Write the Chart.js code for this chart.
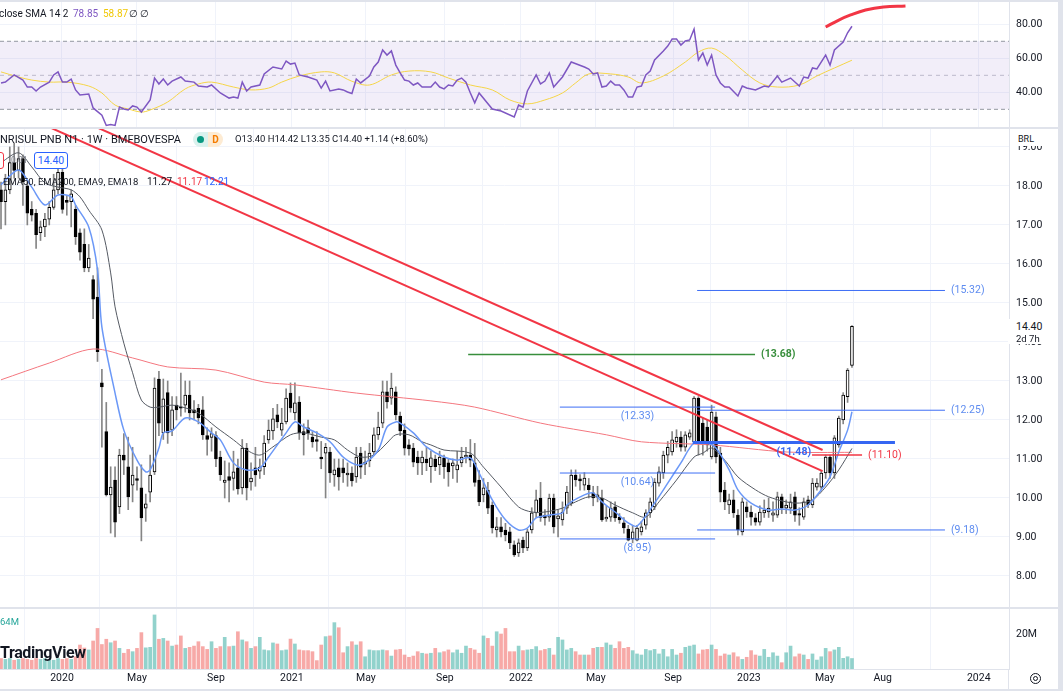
<!DOCTYPE html>
<html lang="pt-BR">
<head>
<meta charset="UTF-8">
<meta name="viewport" content="width=device-width, initial-scale=1.0">
<title>BANRISUL PNB N1 · 1W · BMFBOVESPA</title>
<script src="https://cdn.jsdelivr.net/npm/chart.js"></script>
<style>
  body { margin: 0; background: #fff; font-family: Roboto, "Open Sans", sans-serif; }
  #wrap { position: relative; width: 1063px; height: 691px; overflow: hidden; background: #fff; }
  .pane { position: absolute; left: 0; width: 1058px; }
  .pane canvas { position: absolute; left: 0; top: 0; }
  .sep { position: absolute; background: #e0e3eb; }
  .t { position: absolute; white-space: nowrap; line-height: 1; color: #131722; font-size: 10px; transform: translateY(-50%); }
  .lvl { position: absolute; white-space: nowrap; line-height: 1; font-size: 10.5px; }
</style>
</head>
<body>
<div id="wrap">
  <div class="pane" id="rsiPane" style="top:2px;height:125px"><canvas id="rsiChart" width="1058" height="125"></canvas></div>
  <div class="pane" id="pricePane" style="top:129px;height:478px"><canvas id="priceChart" width="1058" height="478"></canvas></div>
  <div class="pane" id="volPane" style="top:609px;height:80px"><canvas id="volChart" width="1058" height="80"></canvas></div>

  <div class="sep" style="left:0;top:0;width:1063px;height:2px"></div>
  <div class="sep" style="left:0;top:127px;width:1058px;height:2px"></div>
  <div class="sep" style="left:0;top:607px;width:1058px;height:2px"></div>
  <div class="sep" style="left:0;top:689px;width:1063px;height:2px"></div>
  <div class="sep" style="left:1058px;top:0;width:5px;height:691px"></div>
  <div class="sep" style="left:1008px;top:669px;width:1px;height:20px"></div>

  <!-- legenda do RSI -->
  <div class="t" style="left:-1px;top:14px">close SMA 14 2</div>
  <div class="t" style="left:73px;top:14px;color:#7e57c2">78.85</div>
  <div class="t" style="left:103px;top:14px;color:#f0c808">58.87</div>
  <div class="t" style="left:129px;top:14px">∅</div>
  <div class="t" style="left:140px;top:14px">∅</div>

  <!-- cabeçalho do gráfico de preço -->
  <div class="t" style="left:0;top:139px;font-size:11px">NRISUL PNB N1 · 1W · BMFBOVESPA</div>
  <div style="position:absolute;left:193px;top:132px;width:15px;height:15px;background:#daf2ee;border-radius:8px 0 0 8px"></div>
  <div style="position:absolute;left:197px;top:136px;width:7px;height:7px;background:#089981;border-radius:50%"></div>
  <div style="position:absolute;left:208px;top:132px;width:15px;height:15px;background:#fdebd3;border-radius:0 8px 8px 0;color:#f57c00;font-size:10px;font-weight:700;display:flex;align-items:center;justify-content:center">D</div>
  <div class="t" style="left:235px;top:139px;font-size:9.5px">O13.40 H14.42 L13.35 C14.40 +1.14 (+8.60%)</div>

  <div style="position:absolute;left:-20px;top:152px;width:24px;height:17px;border:1px solid #f23645;border-radius:3px;box-sizing:border-box;background:#fff"></div>
  <div class="t" style="left:11px;top:160px;font-size:8.5px;color:#787b86">0.01</div>
  <div style="position:absolute;left:34px;top:152px;width:34px;height:17px;border:1px solid #2962ff;border-radius:3px;box-sizing:border-box;background:#fff;color:#2962ff;font-size:10.5px;display:flex;align-items:center;justify-content:center">14.40</div>

  <div class="t" style="left:3px;top:182px;font-size:9.5px">EMA50, EMA200, EMA9, EMA18</div>
  <div class="t" style="left:147px;top:182px">11.27</div>
  <div class="t" style="left:177px;top:182px;color:#f23645">11.17</div>
  <div class="t" style="left:204px;top:182px;color:#2962ff">12.21</div>

  <div style="position:absolute;left:1010px;top:130px;width:48px;height:16px;background:#fff"></div>
  <div class="t" style="left:1018px;top:139px;font-size:9px">BRL</div>
  <div style="position:absolute;left:1008px;top:319px;width:50px;height:25px;background:#fff"></div>
  <div class="t" style="left:1016px;top:327px;font-size:10.5px">14.40</div>
  <div class="t" style="left:1016px;top:339px;font-size:9.5px">2d 7h</div>

  <div class="t" style="left:0;top:622px;font-size:9.5px;color:#26a69a">64M</div>
  <div class="t" style="left:0;top:653px;font-size:16px;font-weight:700;letter-spacing:-0.4px">TradingView</div>

  <svg style="position:absolute;left:1029px;top:672px" width="13" height="13" viewBox="0 0 13 13">
    <circle cx="6.5" cy="6.5" r="5" fill="none" stroke="#131722" stroke-width="1"/>
    <circle cx="6.5" cy="6.5" r="2" fill="none" stroke="#131722" stroke-width="1"/>
  </svg>
</div>

<script>
// velas semanais (índice 0 = primeira vela visível, fim de 2019)
const candleO = [17.9,17.6,17.9,18.6,18.4,18.7,18.0,17.4,17.3,16.8,16.95,17.15,17.45,17.9,18.35,17.63,17.6,17.4,16.8,16.5,
  15.9,15.6,15.15,12.95,11.7,10.08,10.46,9.77,11.1,10.8,10.33,10.5,10.26,9.74,10.15,10.67,13.05,11.67,12.7,11.74,
  12.38,12.33,12.38,12.64,12.26,12.3,12.26,11.6,11.55,11.6,11.05,10.4,10.55,10.5,10.77,10.26,11.28,10.41,10.77,10.69,
  10.8,11.49,11.72,12.13,11.74,11.95,12.69,12.18,12.46,11.7,11.8,11.56,11.5,11.05,11.15,11.18,10.59,10.77,10.77,10.59,
  10.64,10.54,11.15,10.87,10.95,11.18,11.62,11.92,12.72,12.56,12.72,12.1,11.74,11.36,11.28,11.05,10.9,11.0,10.8,11.0,
  10.85,11.03,10.9,10.82,10.72,10.9,11.05,11.1,10.9,10.46,10.08,10.2,9.82,9.18,9.26,9.18,9.13,8.8,8.59,8.92,
  8.72,9.18,9.62,10.0,9.56,9.51,10.0,9.46,9.44,9.74,9.87,10.59,10.49,10.33,10.33,10.13,10.03,10.0,9.46,9.51,
  9.77,9.51,9.36,9.2,8.95,8.92,9.13,9.3,9.62,9.77,10.38,10.64,11.1,11.18,11.44,11.56,11.3,11.56,11.44,12.56,
  11.92,11.82,11.05,12.08,11.15,10.2,9.82,9.95,9.56,9.13,9.77,9.64,9.49,9.38,9.62,9.64,9.56,9.56,10.03,9.74,
  9.74,10.03,9.6,9.51,9.95,9.82,10.28,10.28,10.64,11.05,10.64,11.36,12.0,12.6,13.4];
const candleH = [18.1,18.3,19.0,19.1,19.0,18.8,18.1,17.6,17.4,17.1,17.3,17.6,18.3,18.55,18.6,17.75,17.9,17.5,16.9,16.9,
  16.5,15.7,15.9,13.3,12.45,10.8,10.8,11.25,11.65,11.56,11.3,10.8,10.85,10.1,11.1,13.08,13.25,13.05,13.0,12.6,
  12.6,13.2,13.0,13.0,12.5,12.4,12.6,11.8,11.8,11.7,11.2,10.95,10.9,11.2,11.0,11.5,11.4,10.9,11.3,11.0,
  11.6,12.0,12.3,12.4,12.3,12.8,12.95,12.95,12.6,11.9,12.0,11.7,11.7,11.45,11.4,11.3,11.0,11.0,11.0,10.9,
  10.8,11.3,11.3,11.2,11.4,11.8,12.2,13.0,13.0,13.2,12.85,12.2,11.9,11.5,11.4,11.2,11.2,11.3,11.2,11.1,
  11.2,11.1,11.0,11.0,11.2,11.3,11.3,11.5,11.4,10.7,10.5,10.4,9.9,9.5,9.5,9.35,9.25,8.9,8.95,9.0,
  9.2,9.75,10.2,10.4,9.7,10.1,10.1,9.7,9.9,10.3,10.72,10.72,10.6,10.65,10.5,10.3,10.3,10.2,9.8,9.9,
  9.9,9.6,9.5,9.3,9.3,9.3,9.4,9.7,10.0,10.5,10.8,11.2,11.45,11.7,11.75,11.7,11.7,11.75,12.6,12.6,
  12.05,12.0,12.38,12.2,11.3,10.4,10.1,10.2,9.7,10.0,9.9,9.8,9.6,9.8,9.95,10.0,9.9,10.15,10.1,9.95,
  10.1,10.15,9.75,10.0,10.05,10.5,10.5,10.7,11.1,11.1,11.6,12.1,12.7,13.32,14.42];
const candleL = [16.9,17.0,17.8,18.2,18.2,17.5,17.0,17.1,16.4,16.6,16.7,17.0,17.4,17.8,17.3,17.25,16.95,16.5,16.1,15.8,
  15.8,14.6,13.5,11.3,10.05,9.1,9.0,9.6,10.6,9.7,9.9,10.2,8.9,9.4,9.9,10.6,11.6,11.5,11.4,11.6,
  12.0,12.1,12.2,12.0,12.0,11.9,11.5,11.1,11.2,10.8,10.45,10.0,9.9,10.2,10.1,10.1,9.95,10.2,10.3,10.5,
  10.6,11.4,11.5,11.8,11.6,11.9,12.2,12.0,11.5,11.1,11.5,11.3,11.2,10.75,10.0,10.4,10.3,10.2,10.4,10.3,
  10.3,10.4,10.5,10.6,10.8,11.1,11.5,11.8,12.3,12.4,12.0,11.6,11.1,11.1,10.8,10.6,10.6,10.7,10.4,10.7,
  10.6,10.5,10.3,10.5,10.4,10.8,10.9,10.8,10.3,9.8,9.9,9.6,9.1,9.0,9.0,8.9,8.7,8.5,8.5,8.6,
  8.65,9.1,9.5,9.4,9.3,9.4,9.1,9.0,9.3,9.6,9.8,10.3,10.2,10.2,10.0,9.8,9.9,9.4,9.4,9.4,
  9.4,9.35,9.1,8.9,8.85,8.9,9.05,9.2,9.5,9.7,10.3,10.5,10.9,11.1,11.3,11.2,11.2,11.5,11.4,11.1,
  11.1,11.2,11.0,10.9,9.9,9.7,9.6,9.5,9.05,9.05,9.5,9.3,9.3,9.3,9.5,9.5,9.4,9.5,9.6,9.6,
  9.6,9.4,9.3,9.45,9.75,9.75,10.2,10.2,10.5,10.5,10.5,11.3,11.9,12.45,13.35];
const candleC = [17.6,17.9,18.6,18.4,18.7,18.1,17.3,17.25,16.75,16.95,17.15,17.45,17.9,18.35,17.4,17.58,17.8,16.7,16.3,15.9,
  16.15,15.1,13.75,12.85,10.08,10.28,9.38,11.1,10.97,10.03,10.59,10.45,9.49,9.85,10.59,12.82,11.92,12.54,11.67,12.26,
  12.26,12.3,12.64,12.18,12.18,12.05,11.62,11.5,11.65,11.0,10.6,10.46,10.45,10.67,10.23,11.28,10.26,10.51,10.59,10.79,
  11.41,11.74,12.03,11.95,11.92,12.56,12.31,12.44,11.67,11.62,11.67,11.44,11.45,11.0,11.3,10.64,10.72,10.54,10.64,10.64,
  10.44,11.05,10.79,10.92,11.15,11.62,11.82,12.72,12.46,12.82,12.13,11.72,11.28,11.26,10.92,10.9,11.05,10.9,11.03,10.8,
  11.05,10.8,10.67,10.9,10.85,11.05,11.1,10.97,10.4,9.9,10.26,9.74,9.23,9.26,9.13,9.05,8.85,8.54,8.85,8.72,
  9.13,9.62,9.95,9.5,9.49,10.0,9.26,9.54,9.64,10.15,10.59,10.46,10.44,10.51,10.21,10.0,10.08,9.44,9.51,9.74,
  9.49,9.44,9.23,8.92,9.13,9.23,9.26,9.62,9.9,10.41,10.67,11.1,11.3,11.49,11.56,11.3,11.62,11.67,12.56,11.41,
  11.41,11.36,12.2,11.05,10.15,9.9,9.95,9.62,9.18,9.9,9.64,9.51,9.38,9.64,9.69,9.74,9.62,10.03,9.74,9.82,
  9.9,9.56,9.56,9.9,9.82,10.38,10.38,10.64,11.05,10.64,11.54,12.05,12.64,13.28,14.4];

// volume semanal em milhões
const volume = [6,5.5,6,5,5.5,6,5.5,5,6,5.5,6,5.5,5,6,5.5,6,5.5,7,
  13.7,12,10.9,16,23.2,14,17,15,16,11.8,9,11.2,9.9,11.8,20.8,12.1,12.4,30.9,
  17,17.5,16,13.1,13.7,18.9,11.8,12.4,13.1,15.6,12.8,11.2,15.6,11.8,12.8,18.1,12.8,13.1,21.3,16.6,
  15.6,11.8,12.8,18.1,10.9,10.5,14.9,14.3,10.5,10.9,17.1,14.3,10.9,10.5,10.5,9.9,4.8,13.7,18.5,18.9,
  26.5,
  23.6,9.3,12.8,15.6,13.7,15.6,7,10.9,10.5,10.5,10.9,10.5,7.4,10.9,11.2,8,6.7,7.4,9.9,9,
  8.6,9,11.8,9.3,9.9,10.9,9.3,10.9,9,13.1,11.8,10.9,9,18.9,17.5,13.1,21.3,20,
  23.2,
  9.9,9.9,13.1,10.5,10.9,11.2,12.8,10.5,11.2,11.8,8,
  18.1,
  16.6,10.9,11.8,9.9,8,8,8,11.8,12.4,12.4,14.9,13.7,11.8,15.6,11.8,12.4,10.5,8.6,8,11.2,
  10.5,11.2,8.6,11.2,7,11.2,8,9,12.4,13.1,13.7,8.6,10.9,11.2,13.7,11.2,7.4,8.6,8,9.3,7,5.5,
  6.7,10.5,8,7.4,11.2,6.7,9.3,7.4,3.6,
  9.3,13.1,7,8.6,8,5.5,8.6,5.1,7,11.8,9.9,10.9,12.4,6.1,7,6];

// médias móveis: [índice da vela, valor]
const ema9Pts = [[0,18.03],[4,18.41],[7,17.97],[10,17.51],[13,17.77],[16,17.72],[17,17.51],[20,16.95],[22,15.85],[23,14.38],
  [26,12.69],[28,11.74],[31,10.97],[33,10.67],[34,10.72],[36,11.28],[37,11.67],[39,11.72],[42,12.05],[45,11.95],
  [48,11.67],[50,11.49],[53,10.9],[56,10.72],[59,10.77],[61,11.05],[65,11.67],[67,11.95],[69,11.82],[72,11.67],
  [75,11.44],[78,11.05],[81,10.85],[83,10.9],[86,11.23],[88,11.82],[90,11.95],[91,11.92],[94,11.67],[97,11.31],
  [101,11.05],[104,10.97],[107,11.03],[109,10.64],[112,9.95],[115,9.44],[118,9.18],[120,9.23],[122,9.49],[125,9.56],
  [128,9.62],[129,9.82],[133,10.08],[135,10.13],[137,9.9],[140,9.64],[143,9.36],[145,9.28],[149,9.87],[152,10.38],
  [155,10.9],[158,11.41],[161,11.41],[163,11.28],[166,10.72],[168,10.21],[171,9.87],[175,9.69],[178,9.72],[181,9.69],
  [184,9.82],[187,10.21],[189,10.54],[191,11.18],[193,11.74],[194,12.21]];
const ema18Pts = [[0,18.6],[4,18.85],[7,18.49],[10,18.08],[13,17.97],[16,17.9],[18,17.72],[20,17.38],[23,16.87],[25,15.77],
  [26,14.9],[28,13.97],[30,13.21],[32,12.51],[34,12.33],[36,12.33],[39,12.38],[42,12.31],[45,12.18],[49,11.82],
  [53,11.49],[56,11.23],[59,11.1],[62,11.31],[66,11.62],[69,11.67],[73,11.56],[76,11.49],[79,11.23],[82,11.05],
  [85,11.1],[88,11.41],[90,11.62],[93,11.62],[96,11.44],[98,11.36],[101,11.23],[107,11.15],[110,10.79],[114,10.28],
  [118,9.77],[121,9.64],[124,9.64],[128,9.74],[131,9.9],[134,10.03],[137,10.0],[140,9.82],[144,9.62],[147,9.51],
  [150,9.9],[154,10.46],[158,11.05],[160,11.15],[162,11.28],[165,10.97],[168,10.54],[172,10.21],[175,10.03],[179,9.9],
  [182,9.87],[185,9.95],[188,10.28],[191,10.72],[194,11.27]];
const ema200Pts = [[0,13.03],[11,13.46],[21,13.82],[30,13.59],[38,13.36],[49,13.28],[60,12.97],[67,12.9],[81,12.69],
  [98,12.49],[108,12.33],[123,11.92],[138,11.62],[146,11.44],[162,11.36],[179,11.18],[194,11.17]];

// RSI 14 e sua média
const rsiPts = [[0,45.5],[1,46],[3,50.2],[5,47.2],[6,43.1],[7,43.1],[8,40.8],[9,43.1],[11,46],[12,50.2],[13,52],[14,46],
  [15,46],[16,47.8],[17,41.4],[18,38.4],[20,39],[21,30.8],[23,26.6],[24,20.5],[25,21],[26,20.5],[27,31.3],[28,30.2],
  [29,29.6],[30,32],[31,31.3],[32,28.4],[34,35.5],[35,48.4],[36,44.9],[37,47.8],[38,44.3],[39,46.6],[41,49],[42,46.6],
  [44,46],[45,43.7],[47,43.1],[48,44.3],[50,39.6],[52,36.6],[53,37.2],[54,36.6],[55,46],[56,40.8],[57,43.1],[59,44.3],
  [60,50.8],[62,54.9],[64,53.7],[65,58.4],[66,56.6],[67,57.2],[68,50.2],[70,49],[72,47.2],[73,42.5],[74,46.6],[75,40.8],
  [77,42],[78,41.4],[79,40.2],[80,39.3],[81,47.8],[82,45.5],[84,49.6],[85,54.9],[86,57.8],[87,64.9],[88,61.9],[89,64.3],
  [90,56],[91,51.4],[92,47.2],[93,46.6],[94,44.3],[95,45.5],[96,43.1],[98,43.1],[99,46],[100,43.1],[101,42],[102,44.3],
  [103,43.7],[104,47.2],[105,48.4],[106,46],[107,39.6],[108,33.8],[109,39.6],[112,30.2],[114,29],[117,25.5],[118,32.5],
  [119,31.3],[120,40.8],[122,50.2],[123,44.9],[124,46.6],[125,51.4],[126,43.1],[127,46],[128,49],[130,57.8],[133,54.9],
  [134,53.7],[135,50.8],[136,51.4],[137,43.1],[138,43.7],[139,46.6],[140,44.3],[141,44.3],[142,41.4],[143,37.2],[144,37.2],
  [145,43.1],[146,43.7],[147,50.2],[148,52.5],[149,59],[151,64.3],[152,67.2],[153,71.3],[154,71.3],[155,67.8],[156,70.2],
  [157,70.8],[158,77.2],[159,59],[160,63.1],[161,56],[162,61.9],[163,50.2],[164,45.5],[165,43.1],[166,43.1],[168,37.8],
  [169,43.7],[170,42.5],[172,41.4],[174,43.7],[175,43.1],[177,49.6],[178,46],[180,48.4],[182,43.7],[183,49],[184,48.4],
  [185,54.3],[186,53.7],[188,61.9],[189,56],[190,64.9],[192,69.6],[193,75],[194,78.85]];
const rsiSmaPts = [[0,52],[4,49],[7,47.2],[11,46],[15,46],[20,43.7],[23,39.6],[26,32.5],[29,30.2],[32,28.4],[34,29.6],
  [38,34.3],[42,42],[45,44.9],[48,46],[53,43.1],[57,41.4],[61,42.5],[64,46],[68,49.6],[73,52],[76,51.4],[80,46.5],
  [84,44.3],[89,50.2],[93,52.5],[98,52],[102,48.4],[107,44.3],[112,41.4],[116,35.5],[120,33.2],[124,35.5],[128,39.6],
  [131,45.5],[134,50.8],[139,50.8],[143,49],[146,45.5],[151,49.6],[156,57.8],[159,63.7],[162,66],[165,61.9],[169,53.1],
  [173,45.5],[177,43.1],[182,44.3],[186,49.6],[190,54.3],[194,58.87]];
const rsiArcPts = [[188,78.4],[191,82.5],[193.7,85.5],[197.1,88.4],[201.2,90.2],[206.2,90.8]];

// desenhos: linhas de tendência e níveis horizontais
const trendLower = [[-0.23,20.07],[187.3,10.69]];
const trendUpper = [[13.5,19.92],[187.3,11.23]];
const levelPrice = [15.32, 12.25, 9.18, 12.33, 10.64, 8.95, 11.42, 13.68, 11.10];
const levelText = ['(15.32)','(12.25)','(9.18)','(12.33)','(10.64)','(8.95)','(11.48)','(13.68)','(11.10)'];
const levelFrom = [158.7, 158.7, 158.7, 127.4, 127.4, 127.4, 157.7, 106.5, 184.9];
const levelTo = [215.2, 215.2, 215.2, 162.8, 162.8, 162.8, 203.8, 171.9, 196.3];

// eixo do tempo
const tickPos = [13.9, 31.0, 49.0, 66.3, 83.2, 101.2, 118.5, 135.6, 153.2, 170.5, 187.8, 201.0, 222.9];
const tickLabels = ['2020','May','Sep','2021','May','Sep','2022','May','Sep','2023','May','Aug','2024'];
const priceTicks = [8,9,10,11,12,13,14,15,16,17,18,19];
const rsiTicks = [40, 60, 80];
const volTicks = [20];

const xMin = -0.23, xMax = 229.8;

const levelStyle = [
  { line: '#3d6ef5', width: 1, text: '#5e8cf0', place: 'right' },
  { line: '#3d6ef5', width: 1, text: '#5e8cf0', place: 'right' },
  { line: '#3d6ef5', width: 1, text: '#5e8cf0', place: 'right' },
  { line: '#3d6ef5', width: 1, text: '#5e8cf0', place: 'below' },
  { line: '#3d6ef5', width: 1, text: '#5e8cf0', place: 'below' },
  { line: '#3d6ef5', width: 1, text: '#5e8cf0', place: 'below' },
  { line: '#3566f2', width: 3, text: '#3566f2', place: 'below', bold: true },
  { line: '#388e3c', width: 1.5, text: '#388e3c', place: 'right', bold: true },
  { line: '#f23645', width: 1.5, text: '#f23645', place: 'right' }
];

Chart.defaults.font.family = 'Roboto';

const pts = a => a.map(p => ({ x: p[0], y: p[1] }));
const fmt2 = v => Number(v).toFixed(2);
const noPad = s => { s.paddingTop = 0; s.paddingBottom = 0; s.paddingLeft = 0; s.paddingRight = 0; };

function xAxis(show) {
  return {
    type: 'linear', min: xMin, max: xMax, offset: false,
    afterBuildTicks: s => { s.ticks = tickPos.map(v => ({ value: v })); },
    grid: { color: '#f0f3fa', drawTicks: false },
    border: { display: show, color: '#e0e3eb' },
    ticks: { display: show, autoSkip: false, maxRotation: 0, padding: 3, color: '#131722',
      font: { size: 10.5 }, callback: (v, i) => tickLabels[i] },
    afterFit: s => { s.height = show ? 20 : 0; noPad(s); }
  };
}
function yAxis(min, max, ticks, cb, grid) {
  return {
    type: 'linear', position: 'right', min: min, max: max,
    afterBuildTicks: s => { s.ticks = ticks.map(v => ({ value: v })); },
    grid: { display: grid, color: '#f0f3fa', drawTicks: false },
    border: { color: '#e0e3eb' },
    ticks: { padding: 7, color: '#131722', font: { size: 10.5 }, callback: cb },
    afterFit: s => { s.width = 49; noPad(s); }
  };
}
const base = {
  responsive: false, animation: false, devicePixelRatio: 1, events: [],
  layout: { padding: 0 },
  plugins: { legend: { display: false }, tooltip: { enabled: false } }
};

function hLine(y, color, dash) {
  return { type: 'line', data: [{ x: xMin, y: y }, { x: xMax, y: y }], borderColor: color,
    borderWidth: 1, borderDash: dash, pointRadius: 0, fill: false, order: 6 };
}

// painel RSI
const band70 = hLine(70, '#9598a1', [4, 3]);
const band30 = hLine(30, '#9598a1', [4, 3]);
band30.fill = '-1';
band30.backgroundColor = 'rgba(126,87,194,0.1)';
new Chart(document.getElementById('rsiChart'), {
  type: 'line',
  data: { datasets: [
    band70, band30, hLine(50, '#c3c5cc', [4, 4]),
    { data: pts(rsiSmaPts), borderColor: '#f5d547', borderWidth: 1, pointRadius: 0, tension: 0.35, order: 3 },
    { data: pts(rsiPts), borderColor: '#7e57c2', borderWidth: 1.5, pointRadius: 0, tension: 0, order: 2 },
    { data: pts(rsiArcPts), borderColor: '#f23645', borderWidth: 3, pointRadius: 0, tension: 0.4, order: 1 }
  ] },
  options: Object.assign({}, base, {
    scales: { x: xAxis(false), y: yAxis(19.6, 93.1, rsiTicks, fmt2, true) }
  })
});

// rótulos dos níveis desenhados, posicionados pela escala
const levelLabels = {
  id: 'levelLabels',
  afterDraw(chart) {
    if (chart.$lblDone) return;
    chart.$lblDone = true;
    const xs = chart.scales.x, ys = chart.scales.y, host = chart.canvas.parentNode;
    levelPrice.forEach((p, i) => {
      const st = levelStyle[i];
      const el = document.createElement('div');
      el.className = 'lvl';
      el.textContent = levelText[i];
      el.style.color = st.text;
      if (st.bold) el.style.fontWeight = '700';
      const y = ys.getPixelForValue(p);
      if (st.place === 'right') {
        el.style.left = (xs.getPixelForValue(levelTo[i]) + 6) + 'px';
        el.style.top = y + 'px';
        el.style.transform = 'translateY(-50%)';
      } else {
        el.style.left = xs.getPixelForValue((levelFrom[i] + levelTo[i]) / 2) + 'px';
        el.style.top = (y + 9) + 'px';
        el.style.transform = 'translate(-50%, -50%)';
      }
      host.appendChild(el);
    });
  }
};

const up = candleC.map((c, i) => c >= candleO[i]);
const levelSets = levelPrice.map((p, i) => ({
  type: 'line', data: [{ x: levelFrom[i], y: p }, { x: levelTo[i], y: p }],
  borderColor: levelStyle[i].line, borderWidth: levelStyle[i].width, pointRadius: 0, fill: false, order: 1
}));

new Chart(document.getElementById('priceChart'), {
  type: 'bar',
  data: { datasets: [
    { type: 'line', data: pts(trendLower), borderColor: '#f23645', borderWidth: 2, pointRadius: 0, order: 0 },
    { type: 'line', data: pts(trendUpper), borderColor: '#f23645', borderWidth: 2, pointRadius: 0, order: 0 },
    ...levelSets,
    { type: 'line', data: pts(ema9Pts), borderColor: '#6b98f7', borderWidth: 1.5, pointRadius: 0, tension: 0.3, order: 2 },
    { type: 'line', data: pts(ema18Pts), borderColor: '#555a63', borderWidth: 1, pointRadius: 0, tension: 0.3, order: 3 },
    { type: 'line', data: pts(ema200Pts), borderColor: '#f4777f', borderWidth: 1, pointRadius: 0, tension: 0.3, order: 4 },
    { type: 'bar', data: candleO.map((o, i) => ({ x: i, y: [o, candleC[i]] })), grouped: false, barThickness: 3,
      minBarLength: 1, backgroundColor: up.map(u => u ? '#ffffff' : '#000000'), borderColor: '#000000',
      borderWidth: 1, borderSkipped: false, order: 5 },
    { type: 'bar', data: candleL.map((l, i) => ({ x: i, y: [l, candleH[i]] })), grouped: false, barThickness: 1,
      backgroundColor: '#858585', borderWidth: 0, order: 6 }
  ] },
  options: Object.assign({}, base, {
    scales: { x: xAxis(false), y: yAxis(7.205, 19.46, priceTicks, fmt2, true) }
  }),
  plugins: [levelLabels]
});

// volume
new Chart(document.getElementById('volChart'), {
  type: 'bar',
  data: { datasets: [
    { data: volume.map((v, i) => ({ x: i, y: v })), barThickness: 3, borderWidth: 0,
      backgroundColor: up.map(u => u ? 'rgba(38,166,154,0.5)' : 'rgba(239,83,80,0.5)') }
  ] },
  options: Object.assign({}, base, {
    scales: { x: xAxis(true), y: yAxis(0, 34.3, volTicks, v => v + 'M', false) }
  })
});
</script>
</body>
</html>
